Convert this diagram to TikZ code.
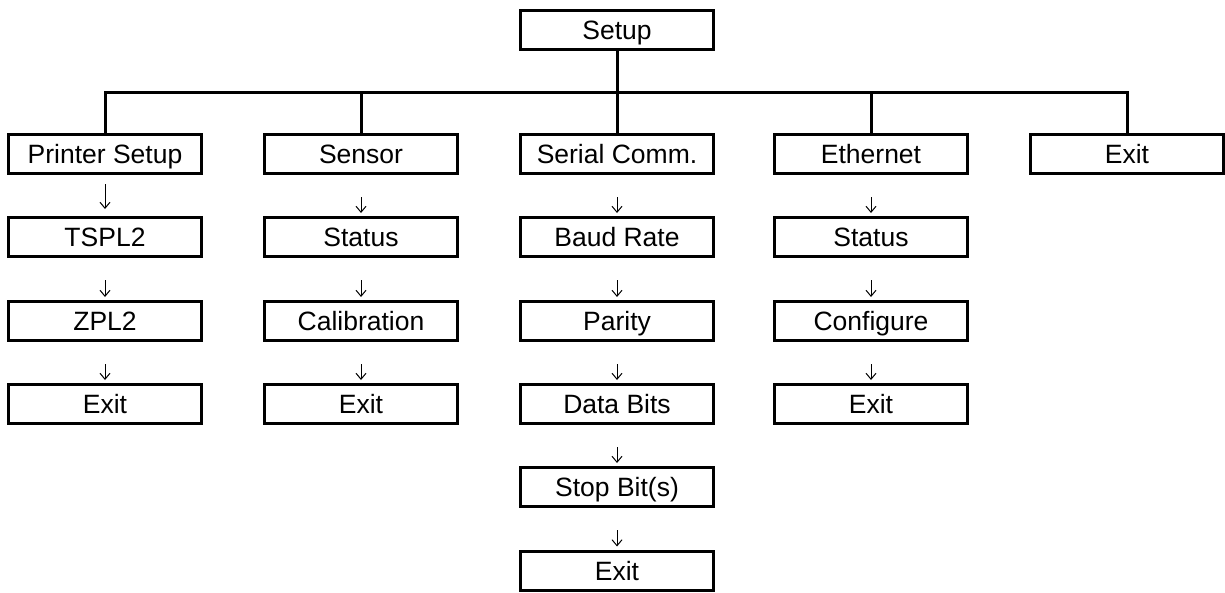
\documentclass[tikz,border=0pt]{standalone}
\usepackage{fontspec}
\setmainfont{Liberation Sans}
\usetikzlibrary{arrows.meta}
\begin{document}
\begin{tikzpicture}[x=1pt,y=-1pt,
  box/.style={draw,line width=3pt,minimum width=193pt,minimum height=39pt,inner sep=0pt,
    text height=19pt,text depth=0pt,
    font=\fontsize{26.5}{30}\selectfont},
  link/.style={line width=3pt},
  arr/.style={line width=1pt,-{Straight Barb[length=6pt,width=10pt,line width=1pt]},
    shorten <=22pt,shorten >=3pt}]
\useasboundingbox (0,0) rectangle (1225,592);
% top
\node[box] (setup) at (617,29.5) {Setup};
% first row
\node[box] (ps) at (105,154) {Printer Setup};
\node[box] (sn) at (361,154) {Sensor};
\node[box] (sc) at (617,154) {Serial Comm.};
\node[box] (et) at (871,154) {Ethernet};
\node[box] (ex) at (1127,154) {Exit};
\coordinate (bar) at (617,92);
\draw[link] (setup) -- (sc);
\draw[link] (ps.north) |- (bar) -| (ex.north);
\draw[link] (sn.north) -- (sn.north |- bar);
\draw[link] (et.north) -- (et.north |- bar);
% printer setup column
\node[box] (ps1) at (105,237) {TSPL2};
\node[box] (ps2) at (105,321) {ZPL2};
\node[box] (ps3) at (105,404) {Exit};
\draw[arr,shorten <=9pt,shorten >=7pt] (ps) -- (ps1);
\draw[arr] (ps1) -- (ps2);
\draw[arr] (ps2) -- (ps3);
% sensor column
\node[box] (sn1) at (361,237) {Status};
\node[box] (sn2) at (361,321) {Calibration};
\node[box] (sn3) at (361,404) {Exit};
\draw[arr] (sn) -- (sn1);
\draw[arr] (sn1) -- (sn2);
\draw[arr] (sn2) -- (sn3);
% serial column
\node[box] (sc1) at (617,237) {Baud Rate};
\node[box] (sc2) at (617,321) {Parity};
\node[box] (sc3) at (617,404) {Data Bits};
\node[box] (sc4) at (617,487) {Stop Bit(s)};
\node[box] (sc5) at (617,570.5) {Exit};
\draw[arr] (sc) -- (sc1);
\draw[arr] (sc1) -- (sc2);
\draw[arr] (sc2) -- (sc3);
\draw[arr] (sc3) -- (sc4);
\draw[arr] (sc4) -- (sc5);
% ethernet column
\node[box] (et1) at (871,237) {Status};
\node[box] (et2) at (871,321) {Configure};
\node[box] (et3) at (871,404) {Exit};
\draw[arr] (et) -- (et1);
\draw[arr] (et1) -- (et2);
\draw[arr] (et2) -- (et3);
\end{tikzpicture}
\end{document}
